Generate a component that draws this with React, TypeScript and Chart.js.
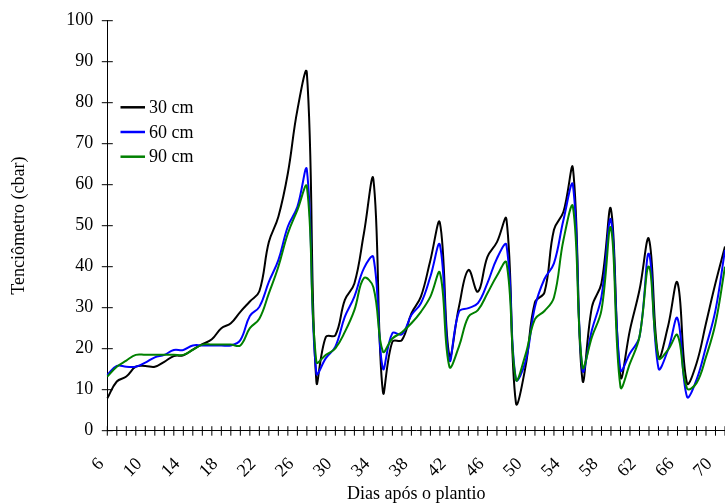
import React, { useEffect, useRef } from 'react';
import { Chart, registerables } from 'chart.js';

Chart.register(...registerables);

const days = [6, 7, 8, 9, 10, 11, 12, 13, 14, 15, 16, 17, 18, 19, 20, 21, 22, 23, 24, 25, 26, 27, 28, 29, 30, 31, 32, 33, 34, 35, 36, 37, 38, 39, 40, 41, 42, 43, 44, 45, 46, 47, 48, 49, 50, 51, 52, 53, 54, 55, 56, 57, 58, 59, 60, 61, 62, 63, 64, 65, 66, 67, 68, 69, 70, 71];

const cm30 = [7.9, 12.0, 13.2, 15.6, 15.8, 15.6, 16.8, 18.2, 18.4, 19.8, 21.1, 22.3, 25.0, 26.2, 29.0, 31.5, 34.0, 46.0, 52.2, 62.8, 78.2, 87.2, 12.0, 22.9, 23.3, 31.9, 35.9, 48.1, 61.3, 9.5, 21.7, 22.1, 28.6, 32.7, 41.6, 50.7, 18.3, 30.2, 39.2, 33.9, 42.4, 46.0, 51.6, 6.8, 15.5, 31.3, 33.7, 49.0, 53.4, 64.0, 12.4, 30.2, 36.0, 54.0, 13.2, 24.6, 34.3, 46.7, 18.0, 25.4, 36.1, 11.6, 16.4, 26.2, 36.0, 44.9];

const cm60 = [13.6, 15.8, 15.6, 15.6, 16.6, 17.9, 18.5, 19.7, 19.7, 20.8, 20.8, 20.8, 20.8, 20.8, 22.1, 28.0, 30.2, 36.3, 41.6, 49.8, 54.6, 63.6, 14.0, 17.7, 20.5, 27.8, 32.7, 39.6, 42.3, 15.2, 23.8, 23.5, 28.2, 31.1, 37.6, 45.3, 17.2, 29.0, 29.9, 31.1, 36.0, 42.0, 45.3, 12.5, 16.8, 30.2, 37.0, 40.8, 51.4, 59.9, 14.8, 24.6, 32.7, 51.4, 14.8, 18.9, 22.9, 43.1, 15.2, 19.7, 27.4, 8.3, 12.4, 20.5, 29.4, 44.1];

const cm90 = [13.2, 15.6, 17.1, 18.5, 18.5, 18.5, 18.5, 18.5, 18.5, 19.7, 21.0, 21.0, 21.0, 21.0, 20.8, 25.0, 27.3, 33.5, 40.0, 48.1, 53.8, 59.5, 16.8, 18.5, 20.1, 24.1, 29.4, 37.2, 35.0, 19.3, 22.5, 24.0, 26.2, 29.0, 32.7, 38.5, 15.6, 20.5, 27.8, 29.4, 33.5, 37.8, 41.0, 12.5, 18.5, 27.2, 29.2, 32.5, 46.5, 54.6, 15.6, 22.9, 29.4, 49.4, 10.7, 16.4, 22.9, 40.0, 17.7, 19.7, 23.3, 10.3, 11.6, 18.0, 26.2, 40.0];

const seriesLabels = ['30 cm', '60 cm', '90 cm'];
const seriesColors = ['#000000', '#0000ff', '#008000'];

const xTitle = 'Dias após o plantio';
const yTitle = 'Tenciômetro (cbar)';

const FONT = "'Liberation Serif', 'Times New Roman', serif";

const crossTicks = {
  id: 'crossTicks',
  beforeDatasetsDraw(chart: any) {
    const { ctx, chartArea, scales } = chart;
    const x = scales.x;
    const y = scales.y;
    ctx.save();
    ctx.strokeStyle = '#000';
    ctx.lineWidth = 1;
    ctx.beginPath();
    x.ticks.forEach((_t: any, i: number) => {
      const px = x.getPixelForTick(i);
      ctx.moveTo(px, chartArea.bottom - 4.5);
      ctx.lineTo(px, chartArea.bottom + 5);
    });
    y.ticks.forEach((_t: any, i: number) => {
      const py = y.getPixelForTick(i);
      ctx.moveTo(chartArea.left - 5.5, py);
      ctx.lineTo(chartArea.left + 5.5, py);
    });
    ctx.stroke();
    ctx.restore();
  },
};

const innerLegend = {
  id: 'innerLegend',
  afterDraw(chart: any) {
    const { ctx } = chart;
    ctx.save();
    ctx.font = `18px ${FONT}`;
    ctx.textBaseline = 'middle';
    ctx.textAlign = 'left';
    chart.data.datasets.forEach((ds: any, i: number) => {
      const yy = 107.3 + i * 24.7;
      ctx.strokeStyle = ds.borderColor;
      ctx.lineWidth = 2.5;
      ctx.beginPath();
      ctx.moveTo(120.5, yy);
      ctx.lineTo(145, yy);
      ctx.stroke();
      ctx.fillStyle = '#000';
      ctx.fillText(ds.label, 149, yy + 1);
    });
    ctx.restore();
  },
};

export default function App() {
  const ref = useRef<HTMLCanvasElement>(null);

  useEffect(() => {
    if (!ref.current) return;
    const series = [cm30, cm60, cm90];
    const chart = new Chart(ref.current, {
      type: 'line',
      data: {
        labels: days.map(String),
        datasets: series.map((s, i) => ({
          label: seriesLabels[i],
          data: s,
          borderColor: seriesColors[i],
          backgroundColor: seriesColors[i],
          borderWidth: 2,
          pointRadius: 0,
          tension: 0.4,
          fill: false,
          order: 2 - i,
        })),
      },
      options: {
        animation: false,
        responsive: false,
        maintainAspectRatio: false,
        layout: { padding: { top: 20.7, left: 0, right: 0, bottom: 0 } },
        plugins: {
          legend: { display: false },
          tooltip: { enabled: false },
        },
        scales: {
          x: {
            type: 'category',
            offset: false,
            grid: { display: false, drawTicks: false },
            border: { display: true, color: '#000', width: 1 },
            ticks: {
              autoSkip: false,
              minRotation: 45,
              maxRotation: 45,
              padding: 23,
              labelOffset: -6,
              color: '#000',
              font: { family: FONT, size: 18 },
              callback: (_v: any, i: number) => ((days[i] - 6) % 4 === 0 ? String(days[i]) : ''),
            },
            title: {
              display: true,
              text: xTitle,
              color: '#000',
              font: { family: FONT, size: 18 },
              padding: { top: 0, bottom: -1 },
            },
            afterFit: (scale: any) => {
              scale.height = 73.3;
              scale.paddingLeft = 0;
              scale.paddingRight = 0;
            },
          },
          y: {
            min: 0,
            max: 100,
            grid: { display: false, drawTicks: false },
            border: { display: true, color: '#000', width: 1 },
            ticks: {
              stepSize: 10,
              padding: 14,
              color: '#000',
              font: { family: FONT, size: 18 },
            },
            title: {
              display: true,
              text: yTitle,
              color: '#000',
              font: { family: FONT, size: 18 },
              padding: { top: 8, bottom: 0 },
            },
            afterFit: (scale: any) => {
              scale.width = 107.3;
              scale.paddingTop = 0;
              scale.paddingBottom = 0;
            },
          },
        },
      },
      plugins: [crossTicks, innerLegend],
    });
    return () => chart.destroy();
  }, []);

  return (
    <div style={{ position: 'absolute', left: 0, top: 0, width: 725, height: 504, background: '#fff' }}>
      <canvas ref={ref} width={725} height={504} style={{ width: 725, height: 504, display: 'block' }} />
    </div>
  );
}
